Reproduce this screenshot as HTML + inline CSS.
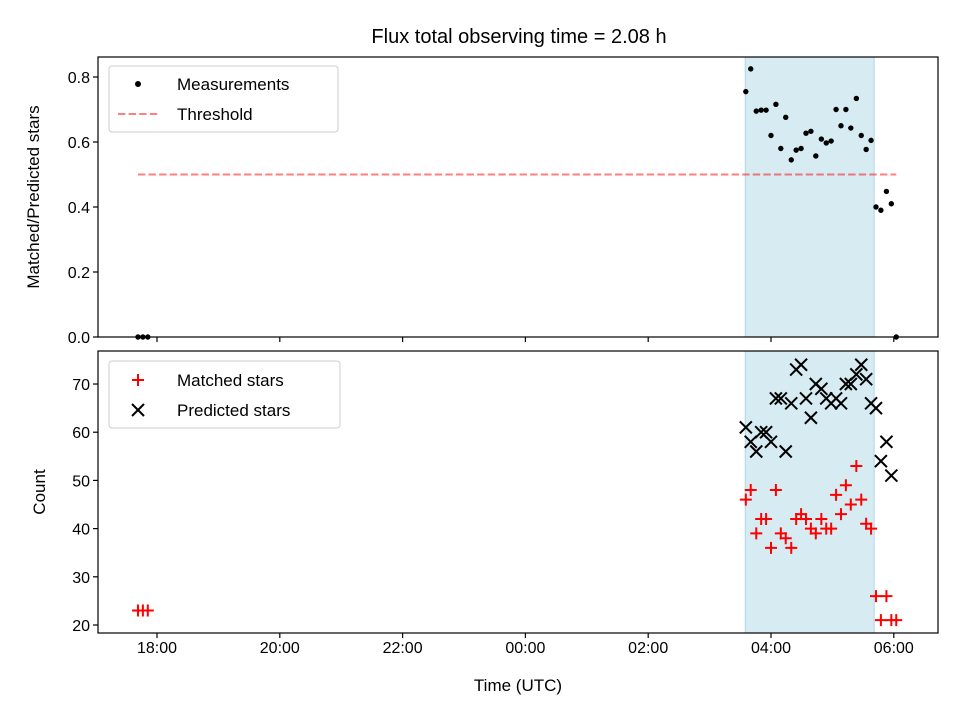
<!DOCTYPE html>
<html><head><meta charset="utf-8"><style>
body{margin:0;background:#fff;}
svg{display:block;font-family:"Liberation Sans","DejaVu Sans",sans-serif;}
</style></head><body>
<svg id="chart" width="960" height="720" viewBox="0 0 960 720" xmlns="http://www.w3.org/2000/svg"></svg>
<script>
// hours since 18:00 UTC
const times = [-0.31,-0.23,-0.15,9.59,9.67,9.76,9.84,9.92,10.00,10.08,10.16,10.24,10.33,10.41,10.49,10.57,10.65,10.73,10.82,10.90,10.98,11.06,11.14,11.22,11.30,11.39,11.47,11.55,11.63,11.71,11.79,11.88,11.96,12.04];
const ratio = [0,0,0,0.755,0.825,0.695,0.698,0.698,0.62,0.716,0.58,0.676,0.545,0.575,0.58,0.627,0.633,0.557,0.609,0.597,0.603,0.70,0.65,0.70,0.643,0.734,0.62,0.577,0.605,0.40,0.39,0.448,0.41,0];
const matched = [23,23,23,46,48,39,42,42,36,48,39,38,36,42,43,42,40,39,42,40,40,47,43,49,45,53,46,41,40,26,21,26,21,21];
const predicted = [null,null,null,61,58,56,60,60,58,67,67,56,66,73,74,67,63,70,69,67,66,67,66,70,70,72,74,71,66,65,54,58,51,null];
const threshold = 0.5;
const thresholdRange = [-0.31,12.04];
const spanRange = [9.58,11.68];
const xTickLabels = ["18:00","20:00","22:00","00:00","02:00","04:00","06:00"];
const xTickHours = [0,2,4,6,8,10,12];
const topTicks = [0,0.2,0.4,0.6,0.8];
const botTicks = [20,30,40,50,60,70];

const svg = document.getElementById('chart');
const NS = 'http://www.w3.org/2000/svg';
function el(tag, attrs, parent){const e=document.createElementNS(NS,tag);for(const k in attrs)e.setAttribute(k,attrs[k]);(parent||svg).appendChild(e);return e;}
const L=98,R=938;
const xDom=[-0.961,12.72];
const x = h => L + (h-xDom[0])/(xDom[1]-xDom[0])*(R-L);
const T1=57,B1=337, T2=351,B2=633;
const yTop = v => B1 - (v-0)/(0.8615)*(B1-T1);
const yBot = v => B2 - (v-18.34)/(76.85-18.34)*(B2-T2);

let t=el('text',{x:519,y:43,'font-size':20,'text-anchor':'middle',fill:'#000'});


t.textContent='Flux total observing time = 2.08 h';

function panel(T,B,name){
  const s=el('rect',{x:x(spanRange[0]),y:T,width:x(spanRange[1])-x(spanRange[0]),height:B-T,fill:'#add8e6','fill-opacity':0.5,stroke:'#add8e6'});
  
  
}
panel(T1,B1,'top');panel(T2,B2,'bottom');

const th=el('line',{x1:x(thresholdRange[0]),x2:x(thresholdRange[1]),y1:yTop(threshold),y2:yTop(threshold),stroke:'#ff0000','stroke-opacity':0.5,'stroke-width':2,'stroke-dasharray':'7.4,3.2'});



times.forEach((h,i)=>{
  const c=el('circle',{cx:x(h),cy:yTop(ratio[i]),r:2.7,fill:'#000'});
  
  
});
times.forEach((h,i)=>{
  if(matched[i]==null)return;
  const cx=x(h),cy=yBot(matched[i]);
  const g=el('path',{d:`M${cx-6} ${cy}H${cx+6}M${cx} ${cy-6}V${cy+6}`,stroke:'#ff0000','stroke-width':2});
  
  
});
times.forEach((h,i)=>{
  if(predicted[i]==null)return;
  const cx=x(h),cy=yBot(predicted[i]);
  const g=el('path',{d:`M${cx-6} ${cy-6}L${cx+6} ${cy+6}M${cx-6} ${cy+6}L${cx+6} ${cy-6}`,stroke:'#000','stroke-width':2});
  
  
});

[[T1,B1,'top'],[T2,B2,'bottom']].forEach(([T,B,n])=>{
  const f=el('rect',{x:L,y:T,width:R-L,height:B-T,fill:'none',stroke:'#000','stroke-width':1.2});
  
  
  xTickHours.forEach(h=>{el('line',{x1:x(h),x2:x(h),y1:B,y2:B+5,stroke:'#000','stroke-width':1.2});});
});
xTickHours.forEach((h,i)=>{
  const tl=el('text',{x:x(h),y:653,'font-size':16,'text-anchor':'middle'});
  
  
  tl.textContent=xTickLabels[i];
});
topTicks.forEach(v=>{
  el('line',{x1:L-5,x2:L,y1:yTop(v),y2:yTop(v),stroke:'#000','stroke-width':1.2});
  const tl=el('text',{x:L-8,y:yTop(v)+6,'font-size':16,'text-anchor':'end'});
  
  
  tl.textContent=v.toFixed(1);
});
botTicks.forEach(v=>{
  el('line',{x1:L-5,x2:L,y1:yBot(v),y2:yBot(v),stroke:'#000','stroke-width':1.2});
  const tl=el('text',{x:L-8,y:yBot(v)+6,'font-size':16,'text-anchor':'end'});
  
  
  tl.textContent=v;
});
let a=el('text',{x:518,y:691,'font-size':17,'text-anchor':'middle'});
a.textContent='Time (UTC)';
a=el('text',{x:0,y:0,'font-size':17,'text-anchor':'middle',transform:'translate(39,197) rotate(-90)'});
a.textContent='Matched/Predicted stars';
a=el('text',{x:0,y:0,'font-size':17,'text-anchor':'middle',transform:'translate(45,492) rotate(-90)'});
a.textContent='Count';

let lg=el('rect',{x:109,y:66,width:229,height:66,rx:3,fill:'#fff','fill-opacity':0.8,stroke:'#ccc'});

el('circle',{cx:138,cy:84,r:3,fill:'#000'});
el('line',{x1:118,x2:158,y1:114,y2:114,stroke:'#ff0000','stroke-opacity':0.5,'stroke-width':2,'stroke-dasharray':'7.4,3.2'});
let lt=el('text',{x:177,y:90,'font-size':17});lt.textContent='Measurements';
lt=el('text',{x:177,y:120,'font-size':17});lt.textContent='Threshold';

lg=el('rect',{x:109,y:361,width:231,height:67,rx:3,fill:'#fff','fill-opacity':0.8,stroke:'#ccc'});

el('path',{d:'M132 380H144M138 374V386',stroke:'#ff0000','stroke-width':2});
el('path',{d:'M132 404L144 416M132 416L144 404',stroke:'#000','stroke-width':2});
lt=el('text',{x:177,y:386,'font-size':17});lt.textContent='Matched stars';
lt=el('text',{x:177,y:416,'font-size':17});lt.textContent='Predicted stars';
</script>
</body></html>
